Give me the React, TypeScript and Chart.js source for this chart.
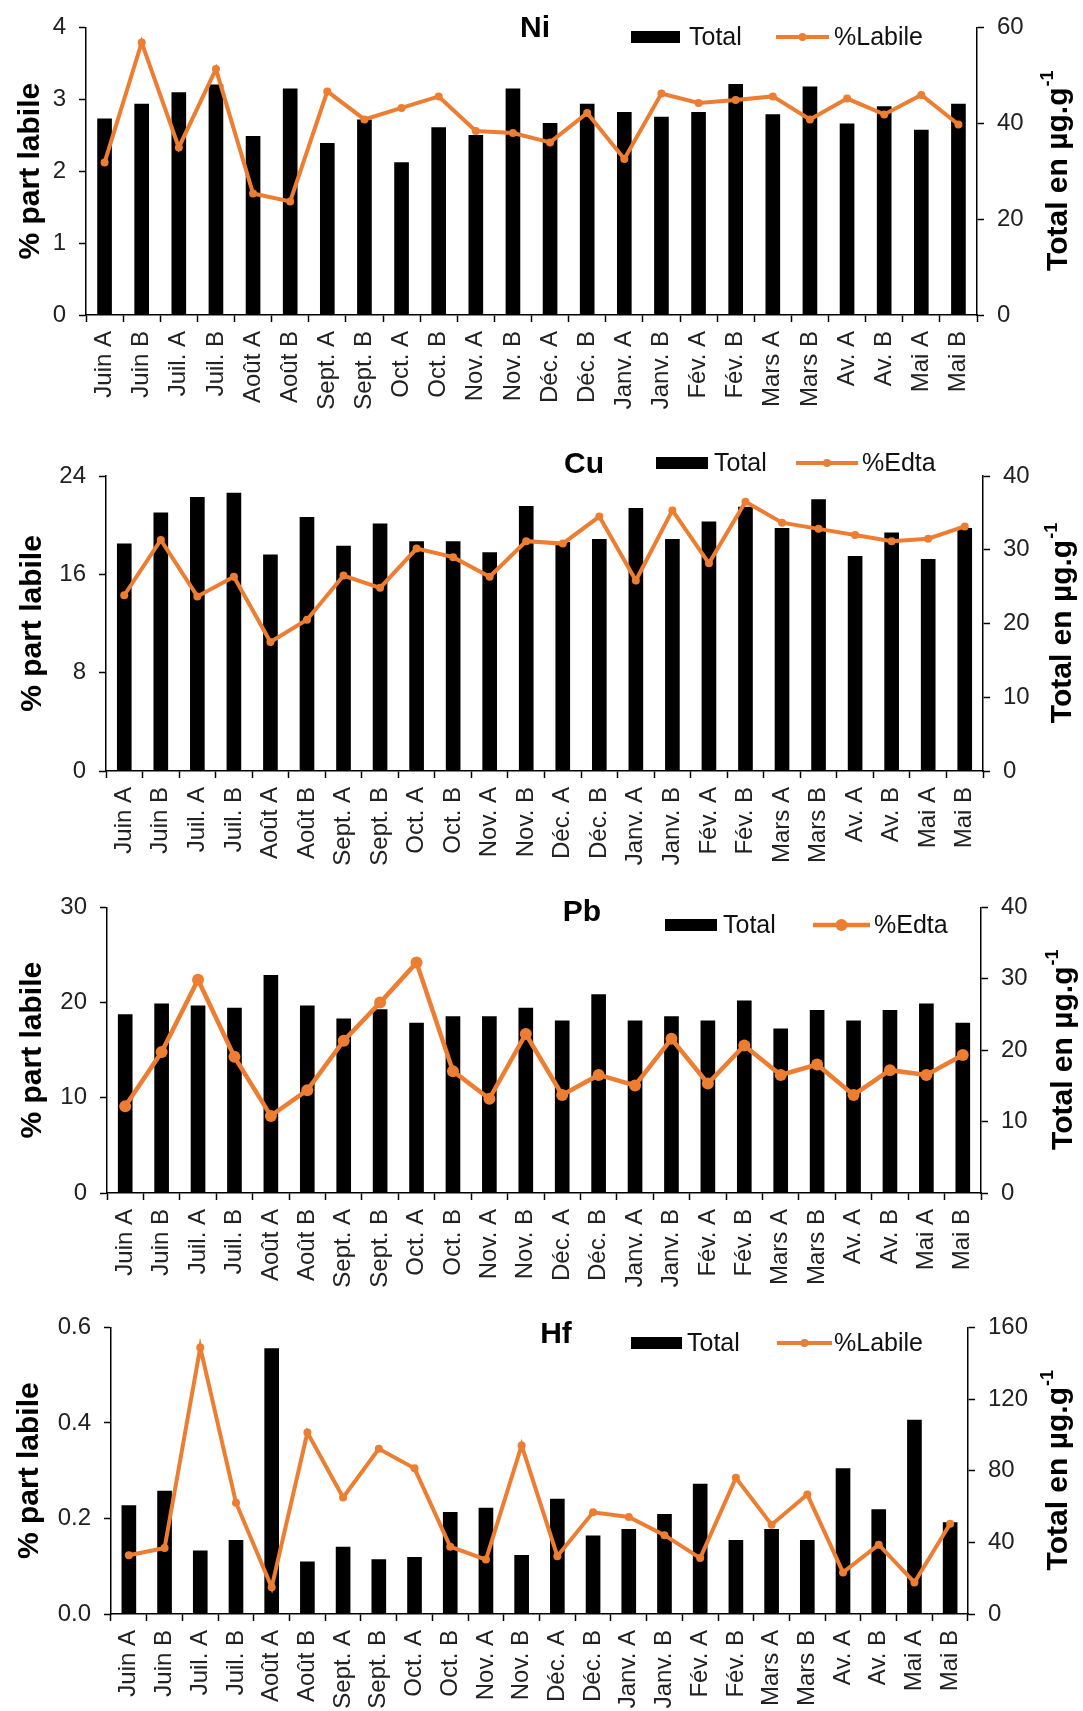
import React, { useEffect, useRef } from "react";
import { Chart, registerables } from "chart.js";

Chart.register(...registerables);

const FONT = "'Liberation Sans', Arial, Helvetica, sans-serif";
const ORANGE = "#ED7D31";

const categories = [
  "Juin A", "Juin B", "Juil. A", "Juil. B", "Août A", "Août B", "Sept. A", "Sept. B",
  "Oct. A", "Oct. B", "Nov. A", "Nov. B", "Déc. A", "Déc. B", "Janv. A", "Janv. B",
  "Fév. A", "Fév. B", "Mars A", "Mars B", "Av. A", "Av. B", "Mai A", "Mai B",
];

// Ni
const niTotal = [40.9, 44.0, 46.4, 48.0, 37.3, 47.2, 35.8, 40.7, 31.8, 39.1, 37.5, 47.2, 40.0, 44.0, 42.3, 41.3, 42.3, 48.1, 41.8, 47.6, 39.9, 43.5, 38.6, 44.0];
const niLabile = [2.12, 3.79, 2.33, 3.42, 1.69, 1.58, 3.11, 2.72, 2.88, 3.04, 2.56, 2.53, 2.40, 2.81, 2.17, 3.08, 2.95, 2.99, 3.04, 2.72, 3.01, 2.79, 3.06, 2.65];

// Cu
const cuTotal = [30.8, 35.0, 37.1, 37.7, 29.3, 34.4, 30.5, 33.5, 31.1, 31.1, 29.6, 35.9, 31.0, 31.4, 35.6, 31.4, 33.8, 35.8, 32.9, 36.8, 29.1, 32.3, 28.7, 32.9];
const cuEdta = [14.3, 18.8, 14.2, 15.8, 10.5, 12.3, 15.9, 14.9, 18.1, 17.4, 15.8, 18.7, 18.5, 20.7, 15.5, 21.2, 16.9, 21.9, 20.2, 19.7, 19.2, 18.7, 18.9, 19.9];

// Pb
const pbTotal = [25.0, 26.5, 26.2, 25.9, 30.5, 26.2, 24.4, 25.7, 23.8, 24.7, 24.7, 25.9, 24.1, 27.8, 24.1, 24.7, 24.1, 26.9, 23.0, 25.6, 24.1, 25.6, 26.5, 23.8];
const pbEdta = [9.1, 14.8, 22.4, 14.3, 8.1, 10.8, 16.0, 20.0, 24.2, 12.8, 9.9, 16.7, 10.3, 12.4, 11.3, 16.2, 11.5, 15.5, 12.4, 13.5, 10.3, 12.9, 12.4, 14.5];

// Hf
const hfTotal = [60.5, 68.6, 35.3, 41.1, 148.2, 29.1, 37.3, 30.4, 31.7, 56.8, 59.2, 32.8, 64.1, 43.7, 47.3, 55.7, 72.6, 41.1, 47.3, 41.1, 81.2, 58.3, 108.3, 51.0];
const hfLabile = [0.123, 0.138, 0.558, 0.233, 0.056, 0.380, 0.244, 0.346, 0.305, 0.141, 0.114, 0.353, 0.121, 0.213, 0.203, 0.165, 0.117, 0.285, 0.187, 0.250, 0.087, 0.145, 0.066, 0.189];

const leftTitle = "% part labile";
const rightTitleMain = "Total en µg.g";
const rightTitleSup = "-1";
const totalLabel = "Total";

type Panel = {
  name: string;
  total: number[];
  pct: number[];
  pctLabel: string;
  leftMax: number;
  leftStep: number;
  leftDecimals: number;
  rightMax: number;
  rightStep: number;
  top: number;
  height: number;
  area: { left: number; right: number; top: number; bottom: number };
  titleX: number;
  titleY: number;
  legY: number;
  legRectX: number;
  legRectW: number;
  legTextX: number;
  legLineX: number;
  legLineW: number;
  legPctX: number;
  leftTitleX: number;
  rightTitleX: number;
  lineWidth: number;
  pointRadius: number;
};

const panels: Panel[] = [
  {
    name: "Ni", total: niTotal, pct: niLabile, pctLabel: "%Labile",
    leftMax: 4, leftStep: 1, leftDecimals: 0, rightMax: 60, rightStep: 20,
    top: 0, height: 440, area: { left: 86, right: 977, top: 22, bottom: 315 },
    titleX: 535, titleY: 29, legY: 37, legRectX: 631, legRectW: 49, legTextX: 689,
    legLineX: 776, legLineW: 53, legPctX: 834, leftTitleX: 31, rightTitleX: 1059,
    lineWidth: 4, pointRadius: 4,
  },
  {
    name: "Cu", total: cuTotal, pct: cuEdta, pctLabel: "%Edta",
    leftMax: 24, leftStep: 8, leftDecimals: 0, rightMax: 40, rightStep: 10,
    top: 440, height: 440, area: { left: 106, right: 983, top: 36, bottom: 331 },
    titleX: 584, titleY: 25, legY: 23, legRectX: 656, legRectW: 52, legTextX: 714,
    legLineX: 796, legLineW: 62, legPctX: 862, leftTitleX: 33, rightTitleX: 1063,
    lineWidth: 4, pointRadius: 4,
  },
  {
    name: "Pb", total: pbTotal, pct: pbEdta, pctLabel: "%Edta",
    leftMax: 30, leftStep: 10, leftDecimals: 0, rightMax: 40, rightStep: 10,
    top: 880, height: 420, area: { left: 107, right: 981, top: 23, bottom: 313 },
    titleX: 582, titleY: 33, legY: 45, legRectX: 665, legRectW: 52, legTextX: 723,
    legLineX: 813, legLineW: 57, legPctX: 874, leftTitleX: 33, rightTitleX: 1064,
    lineWidth: 4.5, pointRadius: 6,
  },
  {
    name: "Hf", total: hfTotal, pct: hfLabile, pctLabel: "%Labile",
    leftMax: 0.6, leftStep: 0.2, leftDecimals: 1, rightMax: 160, rightStep: 40,
    top: 1300, height: 411, area: { left: 111, right: 968, top: 21, bottom: 314 },
    titleX: 556, titleY: 35, legY: 43, legRectX: 631, legRectW: 51, legTextX: 687,
    legLineX: 777, legLineW: 55, legPctX: 834, leftTitleX: 30, rightTitleX: 1059,
    lineWidth: 4, pointRadius: 4,
  },
];

function makeDecor(p: Panel) {
  return {
    id: "decor" + p.name,
    afterDraw(chart: any) {
      const ctx: CanvasRenderingContext2D = chart.ctx;
      const ca = chart.chartArea;
      ctx.save();
      // element name
      ctx.fillStyle = "#000";
      ctx.font = `bold 30px ${FONT}`;
      ctx.textAlign = "center";
      ctx.textBaseline = "middle";
      ctx.fillText(p.name, p.titleX, p.titleY);
      // legend: Total
      ctx.fillRect(p.legRectX, p.legY - 6, p.legRectW, 12);
      ctx.font = `25px ${FONT}`;
      ctx.textAlign = "left";
      ctx.fillStyle = "#111";
      ctx.fillText(totalLabel, p.legTextX, p.legY + 1);
      // legend: line
      ctx.strokeStyle = ORANGE;
      ctx.lineWidth = p.lineWidth;
      ctx.beginPath();
      ctx.moveTo(p.legLineX, p.legY);
      ctx.lineTo(p.legLineX + p.legLineW, p.legY);
      ctx.stroke();
      ctx.fillStyle = ORANGE;
      ctx.beginPath();
      ctx.arc(p.legLineX + p.legLineW / 2, p.legY, p.pointRadius, 0, Math.PI * 2);
      ctx.fill();
      ctx.fillStyle = "#111";
      ctx.fillText(p.pctLabel, p.legPctX, p.legY + 1);

      const cy = (ca.top + ca.bottom) / 2;
      // left axis title
      ctx.save();
      ctx.translate(p.leftTitleX, cy);
      ctx.rotate(-Math.PI / 2);
      ctx.font = `bold 30px ${FONT}`;
      ctx.textAlign = "center";
      ctx.textBaseline = "middle";
      ctx.fillStyle = "#000";
      ctx.fillText(leftTitle, 0, 0);
      ctx.restore();

      // right axis title (reads bottom to top)
      ctx.save();
      ctx.translate(p.rightTitleX, cy);
      ctx.rotate(-Math.PI / 2);
      ctx.textBaseline = "middle";
      ctx.fillStyle = "#000";
      ctx.font = `bold 30px ${FONT}`;
      const w1 = ctx.measureText(rightTitleMain).width;
      ctx.font = `bold 18px ${FONT}`;
      const w2 = ctx.measureText(rightTitleSup).width;
      const x0 = -(w1 + w2) / 2;
      ctx.textAlign = "left";
      ctx.font = `bold 30px ${FONT}`;
      ctx.fillText(rightTitleMain, x0, 0);
      ctx.font = `bold 18px ${FONT}`;
      ctx.fillText(rightTitleSup, x0 + w1 + 1, -11);
      ctx.restore();

      ctx.restore();
    },
  };
}

function PanelChart({ p }: { p: Panel }) {
  const ref = useRef<HTMLCanvasElement | null>(null);
  useEffect(() => {
    if (!ref.current) return;
    const tickFont = { size: 24, family: FONT };
    const chart = new Chart(ref.current, {
      type: "bar",
      data: {
        labels: categories,
        datasets: [
          {
            type: "line",
            label: p.pctLabel,
            data: p.pct,
            yAxisID: "yL",
            borderColor: ORANGE,
            backgroundColor: ORANGE,
            borderWidth: p.lineWidth,
            pointRadius: p.pointRadius,
            pointBackgroundColor: ORANGE,
            pointBorderWidth: 0,
            tension: 0,
            order: 0,
          } as any,
          {
            type: "bar",
            label: totalLabel,
            data: p.total,
            yAxisID: "yR",
            backgroundColor: "#000",
            borderWidth: 0,
            barThickness: 14,
            order: 1,
          } as any,
        ],
      },
      options: {
        responsive: false,
        maintainAspectRatio: false,
        animation: false,
        layout: { padding: { top: p.area.top, left: 0, right: 0, bottom: 0 } },
        plugins: {
          legend: { display: false },
          tooltip: { enabled: false },
          title: { display: false },
        },
        scales: {
          x: {
            type: "category",
            offset: true,
            grid: {
              offset: true,
              drawOnChartArea: false,
              drawTicks: true,
              tickLength: 7,
              tickWidth: 1.5,
              tickColor: "#000",
              color: "#000",
            },
            border: { display: true, color: "#000", width: 1.5 },
            ticks: {
              minRotation: 90,
              maxRotation: 90,
              autoSkip: false,
              padding: 9,
              color: "#222",
              font: tickFont,
            },
            afterFit: (s: any) => {
              s.height = p.height - p.area.bottom;
            },
          },
          yL: {
            type: "linear",
            position: "left",
            min: 0,
            max: p.leftMax,
            grid: {
              drawOnChartArea: false,
              drawTicks: true,
              tickLength: 7,
              tickWidth: 1.5,
              tickColor: "#000",
            },
            border: { display: true, color: "#000", width: 1.5 },
            ticks: {
              stepSize: p.leftStep,
              padding: 13,
              color: "#222",
              font: tickFont,
              callback: (v: any) => Number(v).toFixed(p.leftDecimals),
            },
            afterFit: (s: any) => {
              s.width = p.area.left;
            },
          },
          yR: {
            type: "linear",
            position: "right",
            min: 0,
            max: p.rightMax,
            grid: {
              drawOnChartArea: false,
              drawTicks: true,
              tickLength: 7,
              tickWidth: 1.5,
              tickColor: "#000",
            },
            border: { display: true, color: "#000", width: 1.5 },
            ticks: {
              stepSize: p.rightStep,
              padding: 13,
              color: "#222",
              font: tickFont,
            },
            afterFit: (s: any) => {
              s.width = 1083 - p.area.right;
            },
          },
        },
      } as any,
      plugins: [makeDecor(p)],
    });
    return () => chart.destroy();
  }, [p]);
  return (
    <canvas
      ref={ref}
      width={1083}
      height={p.height}
      style={{ position: "absolute", left: 0, top: p.top, width: 1083, height: p.height, display: "block" }}
    />
  );
}

export default function App() {
  return (
    <div
      style={{
        position: "absolute",
        left: 0,
        top: 0,
        width: 1083,
        height: 1711,
        background: "#fff",
        overflow: "hidden",
        fontFamily: FONT,
      }}
    >
      {panels.map((p) => (
        <PanelChart key={p.name} p={p} />
      ))}
    </div>
  );
}
